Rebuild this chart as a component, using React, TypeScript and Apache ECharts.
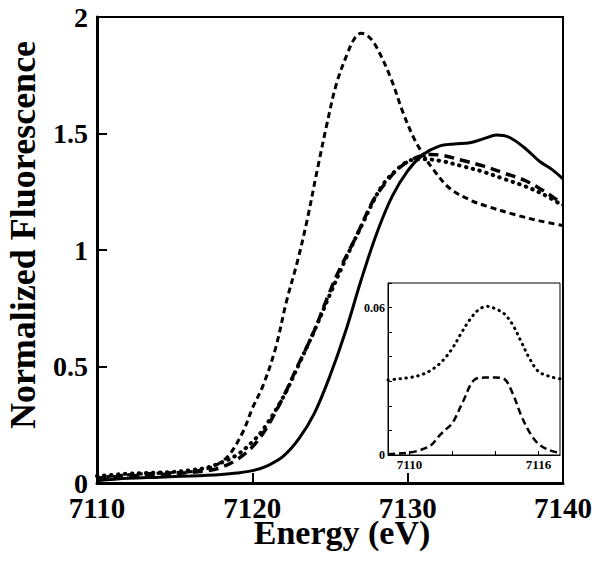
import React, { useEffect, useRef } from "react";
import * as echarts from "echarts";

// Main panel: short-dashed curve
const shortDashE = [7110, 7111, 7112, 7113, 7114, 7115, 7116, 7117, 7117.7, 7118.5, 7119.4, 7120, 7120.7, 7121.5, 7122.2, 7122.9, 7123.5, 7124.2, 7124.8, 7125.4, 7126.1, 7126.6, 7127.0, 7127.5, 7128.0, 7128.9, 7129.7, 7130.4, 7131.0, 7131.6, 7132.7, 7134, 7135, 7137, 7138.5, 7140];
const shortDashV = [0.02, 0.03, 0.035, 0.04, 0.042, 0.045, 0.048, 0.06, 0.077, 0.12, 0.22, 0.32, 0.42, 0.58, 0.78, 0.95, 1.12, 1.35, 1.54, 1.71, 1.84, 1.91, 1.93, 1.915, 1.87, 1.74, 1.59, 1.48, 1.41, 1.35, 1.265, 1.215, 1.19, 1.15, 1.125, 1.105];

// Main panel: solid curve
const solidE = [7110, 7112, 7114, 7116, 7118, 7119, 7120, 7121, 7122, 7123, 7124, 7125, 7126, 7127, 7128, 7129, 7130, 7131, 7132, 7133, 7134, 7135, 7135.7, 7136.5, 7137.5, 7138.5, 7139.3, 7140];
const solidV = [0.01, 0.02, 0.025, 0.03, 0.037, 0.043, 0.053, 0.075, 0.115, 0.19, 0.3, 0.46, 0.65, 0.87, 1.07, 1.23, 1.34, 1.41, 1.445, 1.455, 1.46, 1.48, 1.494, 1.485, 1.44, 1.38, 1.345, 1.305];

// Main panel: long-dashed curve
const longDashE = [7110, 7112, 7114, 7116, 7117, 7117.9, 7119, 7120, 7120.9, 7122, 7122.9, 7123.9, 7124.8, 7125.5, 7126.7, 7127.8, 7128.6, 7129.5, 7130.5, 7131.5, 7132.3, 7133.5, 7134.9, 7136.2, 7137.5, 7138.6, 7139.4, 7140];
const longDashV = [0.02, 0.03, 0.036, 0.045, 0.052, 0.065, 0.1, 0.155, 0.235, 0.37, 0.5, 0.64, 0.79, 0.9, 1.06, 1.215, 1.29, 1.355, 1.395, 1.41, 1.405, 1.385, 1.36, 1.33, 1.3, 1.26, 1.225, 1.195];

// Main panel: dotted curve
const dottedE = [7110, 7111, 7112, 7113, 7114, 7115, 7116, 7117, 7117.9, 7119, 7119.9, 7120.7, 7122, 7123, 7124, 7125, 7126, 7127, 7128.3, 7129.3, 7130.2, 7131, 7132.3, 7133.5, 7134.9, 7136.2, 7137.5, 7138.7, 7140];
const dottedV = [0.03, 0.035, 0.04, 0.042, 0.045, 0.048, 0.055, 0.065, 0.085, 0.12, 0.17, 0.23, 0.37, 0.51, 0.655, 0.81, 0.96, 1.1, 1.27, 1.345, 1.385, 1.39, 1.38, 1.36, 1.335, 1.305, 1.275, 1.24, 1.19];

// Inset: pre-edge dotted
const insetDotE = [7109, 7109.5, 7110, 7110.5, 7111, 7111.5, 7112, 7112.4, 7112.8, 7113.2, 7113.6, 7114, 7114.4, 7114.8, 7115.2, 7115.6, 7116, 7116.5, 7117];
const insetDotV = [0.0305, 0.031, 0.0315, 0.0325, 0.0345, 0.038, 0.0435, 0.0495, 0.055, 0.059, 0.0605, 0.0595, 0.0575, 0.053, 0.046, 0.039, 0.034, 0.032, 0.031];

// Inset: pre-edge dashed
const insetDashE = [7109, 7109.5, 7110, 7110.5, 7111, 7111.4, 7111.7, 7112, 7112.5, 7113, 7113.5, 7114, 7114.4, 7114.8, 7115.2, 7115.6, 7116, 7116.5, 7117];
const insetDashV = [0.0003, 0.0006, 0.001, 0.002, 0.004, 0.008, 0.0105, 0.013, 0.022, 0.0305, 0.0315, 0.0315, 0.031, 0.025, 0.016, 0.009, 0.0045, 0.002, 0.0008];

const mainXTicks = [7110, 7120, 7130, 7140];
const mainYTicks = [0, 0.5, 1, 1.5, 2];
const insetXTicks = [7110, 7112, 7114, 7116];
const insetXLabels = [7110, 7116];
const insetYLabels = [0, 0.06];

const zip = (xs: number[], ys: number[]) => xs.map((x, i) => [x, ys[i]]);

const FONT = "Liberation Serif";

export default function App() {
  const ref = useRef<HTMLDivElement>(null);

  useEffect(() => {
    document.body.style.margin = "0";
    const chart = echarts.init(ref.current!, null, { renderer: "svg" });
    chart.setOption({
      animation: false,
      backgroundColor: "#fff",
      grid: [
        {
          left: 97,
          top: 17,
          right: 37,
          bottom: 86,
          show: true,
          borderColor: "#000",
          borderWidth: 2,
          backgroundColor: "transparent",
        },
        {
          left: 388,
          top: 283,
          right: 40,
          bottom: 114,
          show: true,
          borderColor: "#000",
          borderWidth: 1,
          backgroundColor: "#fff",
        },
      ],
      xAxis: [
        {
          type: "value",
          gridIndex: 0,
          min: 7110,
          max: 7140,
          interval: 10,
          splitLine: { show: false },
          axisLine: { lineStyle: { color: "#000", width: 3 } },
          axisTick: { inside: true, length: 10, lineStyle: { color: "#000", width: 2 } },
          axisLabel: {
            fontFamily: FONT,
            fontWeight: "bold",
            fontSize: 29,
            lineHeight: 18,
            color: "#000",
            margin: 16,
            customValues: mainXTicks,
            formatter: (v: number) => String(v),
          },
        },
        {
          type: "value",
          gridIndex: 1,
          min: 7109,
          max: 7117,
          splitLine: { show: false },
          axisLine: { lineStyle: { color: "#000", width: 1 } },
          axisTick: {
            inside: true,
            length: 4,
            customValues: insetXTicks,
            lineStyle: { color: "#000", width: 1 },
          },
          axisLabel: {
            fontFamily: FONT,
            fontWeight: "bold",
            fontSize: 13,
            color: "#000",
            margin: 3,
            customValues: insetXLabels,
            formatter: (v: number) => String(v),
          },
        },
      ],
      yAxis: [
        {
          type: "value",
          gridIndex: 0,
          min: 0,
          max: 2,
          interval: 0.5,
          splitLine: { show: false },
          axisLine: { show: true, lineStyle: { color: "#000", width: 3 } },
          axisTick: { show: true, inside: true, length: 10, lineStyle: { color: "#000", width: 2 } },
          axisLabel: {
            fontFamily: FONT,
            fontWeight: "bold",
            fontSize: 28,
            lineHeight: 18,
            color: "#000",
            margin: 9,
            customValues: mainYTicks,
            formatter: (v: number) => String(v),
          },
        },
        {
          type: "value",
          gridIndex: 1,
          min: 0,
          max: 0.07,
          interval: 0.01,
          splitLine: { show: false },
          axisLine: { show: true, lineStyle: { color: "#000", width: 1 } },
          axisTick: { show: true, inside: true, length: 4, lineStyle: { color: "#000", width: 1 } },
          axisLabel: {
            fontFamily: FONT,
            fontWeight: "bold",
            fontSize: 12,
            color: "#000",
            margin: 3,
            customValues: insetYLabels,
            formatter: (v: number) => (v === 0 ? "0" : String(v)),
          },
        },
      ],
      series: [
        {
          type: "line",
          xAxisIndex: 0,
          yAxisIndex: 0,
          data: zip(solidE, solidV),
          smooth: 0.35,
          showSymbol: false,
          lineStyle: { color: "#000", width: 3 },
          z: 3,
        },
        {
          type: "line",
          xAxisIndex: 0,
          yAxisIndex: 0,
          data: zip(longDashE, longDashV),
          smooth: 0.35,
          showSymbol: false,
          lineStyle: { color: "#000", width: 3.5, type: [10, 6] },
          z: 3,
        },
        {
          type: "line",
          xAxisIndex: 0,
          yAxisIndex: 0,
          data: zip(dottedE, dottedV),
          smooth: 0.35,
          showSymbol: false,
          lineStyle: { color: "#000", width: 4, type: [0.5, 6.5], cap: "round" },
          z: 3,
        },
        {
          type: "line",
          xAxisIndex: 0,
          yAxisIndex: 0,
          data: zip(shortDashE, shortDashV),
          smooth: 0.35,
          showSymbol: false,
          lineStyle: { color: "#000", width: 3, type: [6, 4] },
          z: 3,
        },
        {
          type: "line",
          xAxisIndex: 1,
          yAxisIndex: 1,
          data: zip(insetDotE, insetDotV),
          smooth: 0.35,
          showSymbol: false,
          lineStyle: { color: "#000", width: 3, type: [0.5, 5.5], cap: "round" },
          z: 10,
        },
        {
          type: "line",
          xAxisIndex: 1,
          yAxisIndex: 1,
          data: zip(insetDashE, insetDashV),
          smooth: 0.35,
          showSymbol: false,
          lineStyle: { color: "#000", width: 2.5, type: [7, 4] },
          z: 10,
        },
      ],
      graphic: [
        {
          type: "text",
          x: 23,
          y: 235,
          rotation: Math.PI / 2,
          style: {
            text: "Normalized Fluorescence",
            font: `bold 36px ${FONT}`,
            fill: "#000",
            align: "center",
            verticalAlign: "middle",
          },
        },
        {
          type: "text",
          x: 342,
          y: 532,
          style: {
            text: "Energy (eV)",
            font: `bold 34px ${FONT}`,
            lineHeight: 24,
            fill: "#000",
            align: "center",
            verticalAlign: "middle",
          },
        },
      ],
    });
    return () => chart.dispose();
  }, []);

  return (
    <div
      ref={ref}
      style={{ position: "fixed", left: 0, top: 0, width: 600, height: 569 }}
    />
  );
}
